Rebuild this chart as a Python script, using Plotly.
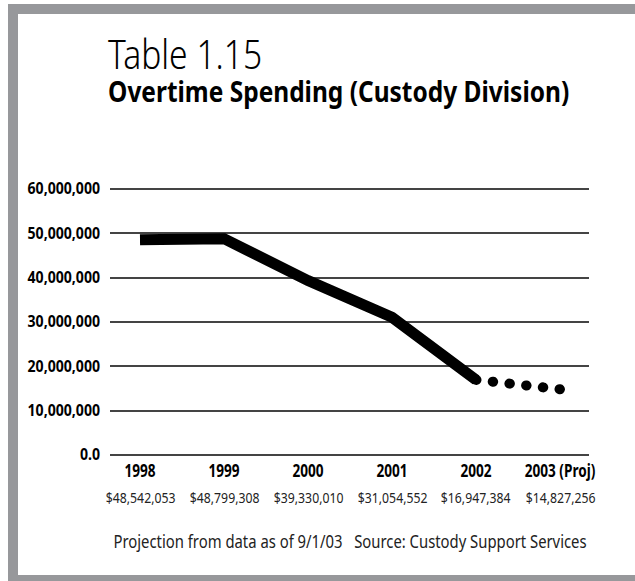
import plotly.graph_objects as go

# Overtime spending, Custody Division
years = ["1998", "1999", "2000", "2001", "2002", "2003 (Proj)"]
spending = [48542053, 48799308, 39330010, 31054552, 16947384, 14827256]
actual_count = 5  # 1998-2002 are actual, 2003 is a projection

y_tick_values = [0, 10000000, 20000000, 30000000, 40000000, 50000000, 60000000]
y_tick_labels = ["0.0", "10,000,000", "20,000,000", "30,000,000",
                 "40,000,000", "50,000,000", "60,000,000"]

title_main = "Table 1.15"
title_sub = "Overtime Spending (Custody Division)"
footer = "Projection from data as of 9/1/03&nbsp;&nbsp;&nbsp;Source: Custody Support Services"

W, H = 635, 581
FONT = "Noto Sans, DejaVu Sans, sans-serif"
FRAME = "#97989b"
GRID = "#444444"


def px(x):
    return x / W


def py(y):
    return 1 - y / H


pos = list(range(len(years)))

fig = go.Figure()

# actual spending: heavy solid line
fig.add_trace(go.Scatter(
    x=pos[:actual_count], y=spending[:actual_count],
    mode="lines", line=dict(color="black", width=11),
    hoverinfo="skip", showlegend=False,
))
# projection: dotted continuation
fig.add_trace(go.Scatter(
    x=pos[actual_count - 1:], y=spending[actual_count - 1:],
    mode="lines", line=dict(color="black", width=10, dash="0.5px,16.3px"),
    hoverinfo="skip", showlegend=False,
))

annotations = [
    dict(text=title_main, x=px(106), y=py(53), xref="paper", yref="paper",
         xanchor="left", yanchor="middle", showarrow=False,
         font=dict(family=FONT, size=40, color="black", weight=300)),
    dict(text="<b>" + title_sub + "</b>", x=px(106), y=py(91), xref="paper", yref="paper",
         xanchor="left", yanchor="middle", showarrow=False,
         font=dict(family=FONT, size=29, color="black")),
    dict(text=footer, x=px(350), y=py(541), xref="paper", yref="paper",
         xanchor="center", yanchor="middle", showarrow=False,
         font=dict(family=FONT, size=17.5, color="#222222")),
]
for i, v in enumerate(spending):
    annotations.append(dict(
        text="${:,}".format(v), x=pos[i], xref="x", y=py(497), yref="paper",
        xanchor="center", yanchor="middle", showarrow=False,
        font=dict(family=FONT, size=15, color="#222222"),
    ))

# grey frame: top, left and bottom bands
frame = [
    dict(x0=8, x1=W, y0=4, y1=14),
    dict(x0=8, x1=18, y0=4, y1=H),
    dict(x0=8, x1=W, y0=575, y1=H),
]
shapes = [dict(type="rect", xref="paper", yref="paper",
               x0=px(b["x0"]), x1=px(b["x1"]), y0=py(b["y1"]), y1=py(b["y0"]),
               fillcolor=FRAME, line=dict(width=0), layer="below")
          for b in frame]

fig.update_layout(
    width=W, height=H,
    margin=dict(l=0, r=0, t=0, b=0, pad=0, autoexpand=False),
    paper_bgcolor="white", plot_bgcolor="rgba(0,0,0,0)",
    font=dict(family=FONT, color="black"),
    xaxis=dict(
        domain=[px(110), px(589)], range=[-30 / 84, 449 / 84],
        tickmode="array", tickvals=pos,
        ticktext=["<b>" + y + "</b>" for y in years],
        tickfont=dict(family=FONT, size=17, color="black"),
        showgrid=False, zeroline=False, showline=False, ticks="",
        ticklabelstandoff=2, fixedrange=True, automargin=False,
    ),
    yaxis=dict(
        domain=[py(457.2), py(186.8)], range=[-500000, 60500000],
        tickmode="array", tickvals=y_tick_values,
        ticktext=["<b>" + t + "</b>" for t in y_tick_labels],
        tickfont=dict(family=FONT, size=15.5, color="black"),
        showgrid=True, gridcolor=GRID, gridwidth=1.5,
        zeroline=False, showline=False, ticks="",
        ticklabelstandoff=9, fixedrange=True, automargin=False,
    ),
    annotations=annotations,
    shapes=shapes,
)

# Page styling: no page margin, round dots on the projection line and a
# condensed look for the lettering (horizontal squeeze of each text run).
page_style = """
var st = document.createElement('style');
st.textContent = 'html,body{margin:0;padding:0;overflow:hidden} .main-svg{overflow:hidden}';
document.head.appendChild(st);
var gd = document.getElementById('{plot_id}');
var tr = gd.querySelectorAll('.scatterlayer .trace');
if (tr.length > 1) {
  tr[1].querySelectorAll('path.js-line').forEach(function (p) { p.style.strokeLinecap = 'round'; });
}
function squeeze(sel, k, origin) {
  gd.querySelectorAll(sel).forEach(function (t) {
    var b = t.getBBox();
    var ox = origin === 'left' ? b.x : (origin === 'right' ? b.x + b.width : b.x + b.width / 2);
    var cur = t.getAttribute('transform') || '';
    t.setAttribute('transform', cur + ' translate(' + ox + ',0) scale(' + k + ',1) translate(' + (-ox) + ',0)');
  });
}
squeeze('.ytick text', 0.91, 'right');
squeeze('.xtick text', 0.8, 'middle');
squeeze('.annotation[data-index="0"] text', 0.84, 'left');
squeeze('.annotation[data-index="1"] text', 0.844, 'left');
squeeze('.annotation[data-index="2"] text', 0.848, 'middle');
for (var i = 3; i < 9; i++) {
  squeeze('.annotation[data-index="' + i + '"] text', 0.817, 'middle');
}
"""

fig.write_html("out.html", config={"displayModeBar": False}, post_script=page_style)
